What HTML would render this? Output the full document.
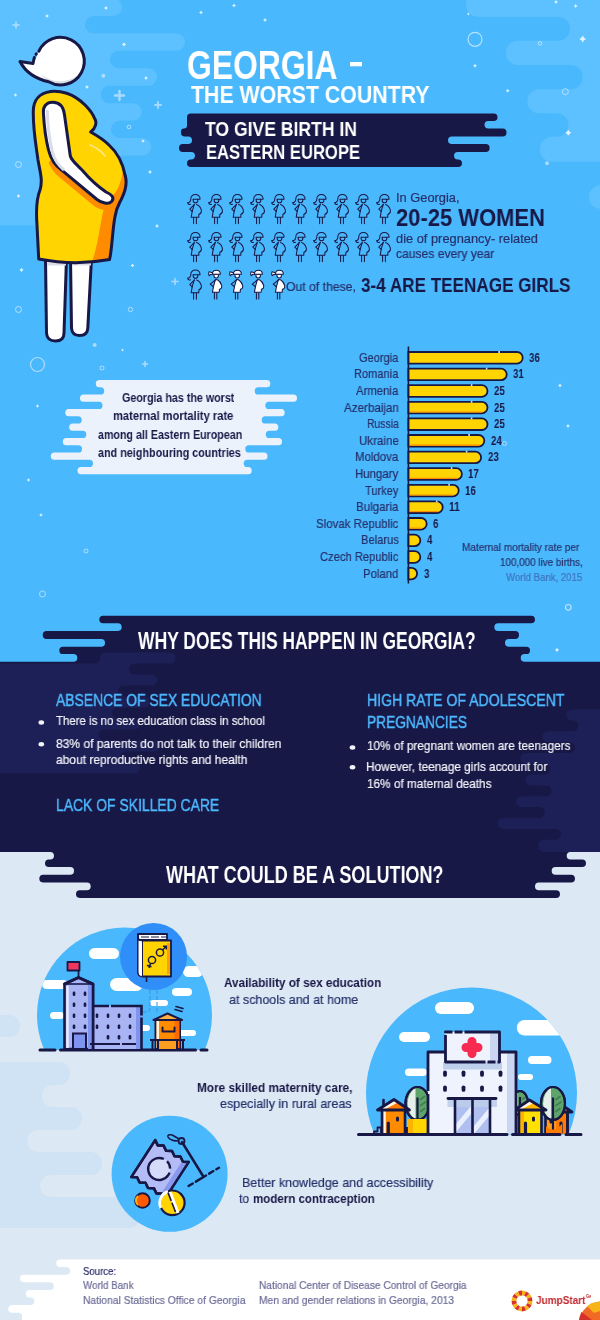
<!DOCTYPE html>
<html><head><meta charset="utf-8"><title>Georgia - the worst country to give birth in Eastern Europe</title>
<style>
html,body{margin:0;padding:0}
body{width:600px;height:1320px;position:relative;overflow:hidden;background:#4ab8fd;font-family:"Liberation Sans",sans-serif}
svg{position:absolute;left:0;top:0}
.t{position:absolute;white-space:pre;line-height:1;transform-origin:0 0;will-change:transform;font-family:"Liberation Sans",sans-serif}
.b{font-weight:700}.r{font-weight:400;-webkit-text-stroke:0.2px currentColor}.m{font-weight:400;-webkit-text-stroke:0.45px currentColor}
</style></head><body>
<svg width="600" height="1320" viewBox="0 0 600 1320">
<rect x="0" y="0" width="600" height="700" fill="#4ab8fd"/>
<path d="M648.0,-7.5A12.0,12.0 0 0 1 660.0,4.5L660.0,149.7A12.0,12.0 0 0 1 648.0,161.7L552.0,161.7A12.0,12.0 0 0 1 540.0,149.7L540.0,148.7A12.0,12.0 0 0 1 552.0,136.7L556.6,136.7A11.7,11.7 0 0 0 568.3,125.0L568.3,125.0A11.7,11.7 0 0 0 556.6,113.3L539.3,113.3A12.0,12.0 0 0 1 527.3,101.3L527.3,101.3A12.0,12.0 0 0 1 539.3,89.3L570.7,89.3A12.0,12.0 0 0 0 582.7,77.3L582.7,77.0A12.0,12.0 0 0 0 570.7,65.0L518.0,65.0A12.0,12.0 0 0 1 506.0,53.0L506.0,52.7A12.0,12.0 0 0 1 518.0,40.7L558.0,40.7A12.0,12.0 0 0 0 570.0,28.7L570.0,28.7A12.0,12.0 0 0 0 558.0,16.7L478.0,16.7A12.0,12.0 0 0 1 466.0,4.7L466.0,4.5A12.0,12.0 0 0 1 478.0,-7.5Z" fill="#5cc1fe"/>
<path d="M113.3,-1.5A8.7,8.7 0 0 1 122.0,7.2L122.0,7.2A8.7,8.7 0 0 1 113.3,15.9L93.7,15.9A8.7,8.7 0 0 0 85.0,24.6L85.0,24.7A8.7,8.7 0 0 0 93.7,33.4L176.3,33.4A8.7,8.7 0 0 1 185.0,42.1L185.0,42.1A8.7,8.7 0 0 1 176.3,50.8L118.7,50.8A8.7,8.7 0 0 0 110.0,59.5L110.0,59.6A8.7,8.7 0 0 0 118.7,68.3L148.3,68.3A8.7,8.7 0 0 1 157.0,77.0L157.0,77.0A8.7,8.7 0 0 1 148.3,85.7L109.5,85.7A8.7,8.7 0 0 0 100.8,94.4L100.8,94.5A8.7,8.7 0 0 0 109.5,103.2L133.0,103.2A8.7,8.7 0 0 1 141.7,111.9L141.7,111.9A8.7,8.7 0 0 1 133.0,120.6L119.7,120.6A8.7,8.7 0 0 0 111.0,129.3L111.0,129.4A8.7,8.7 0 0 0 119.7,138.1L142.3,138.1A8.7,8.7 0 0 1 151.0,146.8L151.0,146.8A8.7,8.7 0 0 1 142.3,155.5L78.7,155.5A8.7,8.7 0 0 0 70.0,164.2L70.0,164.3A8.7,8.7 0 0 0 78.7,173.0L81.3,173.0A8.7,8.7 0 0 1 90.0,181.7L90.0,181.7A8.7,8.7 0 0 1 81.3,190.4L68.7,190.4A8.7,8.7 0 0 0 60.0,199.1L60.0,199.2A8.7,8.7 0 0 0 68.7,207.9L86.3,207.9A8.7,8.7 0 0 1 95.0,216.6L95.0,216.6A8.7,8.7 0 0 1 86.3,225.3L-51.3,225.3A8.7,8.7 0 0 1 -60.0,216.6L-60.0,7.2A8.7,8.7 0 0 1 -51.3,-1.5Z" fill="#5cc1fe"/>
<rect x="589" y="185" width="60" height="24" rx="12" fill="#5cc1fe"/>
<rect x="0" y="840" width="600" height="480" fill="#dce8f3"/>
<path d="M59.0,1062.0A11.0,11.0 0 0 1 70.0,1073.0L70.0,1074.0A11.0,11.0 0 0 1 59.0,1085.0L53.0,1085.0A11.0,11.0 0 0 0 42.0,1096.0L42.0,1096.0A11.0,11.0 0 0 0 53.0,1107.0L71.0,1107.0A11.0,11.0 0 0 1 82.0,1118.0L82.0,1119.0A11.0,11.0 0 0 1 71.0,1130.0L38.0,1130.0A11.0,11.0 0 0 0 27.0,1141.0L27.0,1141.0A11.0,11.0 0 0 0 38.0,1152.0L91.0,1152.0A11.0,11.0 0 0 1 102.0,1163.0L102.0,1164.0A11.0,11.0 0 0 1 91.0,1175.0L51.0,1175.0A11.0,11.0 0 0 0 40.0,1186.0L40.0,1186.0A11.0,11.0 0 0 0 51.0,1197.0L129.0,1197.0A11.0,11.0 0 0 1 140.0,1208.0L140.0,1217.0A11.0,11.0 0 0 1 129.0,1228.0L-49.0,1228.0A11.0,11.0 0 0 1 -60.0,1217.0L-60.0,1073.0A11.0,11.0 0 0 1 -49.0,1062.0Z" fill="#d0e3f4"/>
<rect x="-30" y="1015" width="50" height="22" rx="11" fill="#d0e3f4"/>
<circle cx="475" cy="39.3" r="7" fill="none" stroke="#d5edff" stroke-width="1.2" opacity="0.8"/>
<circle cx="540" cy="43.3" r="1.8" fill="none" stroke="#d5edff" stroke-width="1" opacity="0.7"/>
<circle cx="565.3" cy="91.7" r="3" fill="none" stroke="#d5edff" stroke-width="1" opacity="0.7"/>
<circle cx="547" cy="163.3" r="2" fill="#cfeaff" opacity="0.7"/>
<path d="M582.7,35.5Q583.6800000000001,38.02 586.2,39Q583.6800000000001,39.98 582.7,42.5Q581.72,39.98 579.2,39Q581.72,38.02 582.7,35.5Z" fill="#fff" opacity="0.8"/>
<path d="M568.3,129.7Q569.14,131.85999999999999 571.3,132.7Q569.14,133.54 568.3,135.7Q567.4599999999999,133.54 565.3,132.7Q567.4599999999999,131.85999999999999 568.3,129.7Z" fill="#fff" opacity="0.8"/>
<path d="M475,63.7Q475.56,65.14 477,65.7Q475.56,66.26 475,67.7Q474.44,66.26 473,65.7Q474.44,65.14 475,63.7Z" fill="#fff" opacity="0.8"/>
<path d="M507.7,88.7Q508.26,90.14 509.7,90.7Q508.26,91.26 507.7,92.7Q507.14,91.26 505.7,90.7Q507.14,90.14 507.7,88.7Z" fill="#fff" opacity="0.8"/>
<path d="M556,0Q556.56,1.44 558,2Q556.56,2.56 556,4Q555.44,2.56 554,2Q555.44,1.44 556,0Z" fill="#fff" opacity="0.8"/>
<path d="M575.7,4Q576.26,5.4399999999999995 577.7,6Q576.26,6.5600000000000005 575.7,8Q575.1400000000001,6.5600000000000005 573.7,6Q575.1400000000001,5.4399999999999995 575.7,4Z" fill="#fff" opacity="0.8"/>
<path d="M468.3,12.5Q468.72,13.58 469.8,14Q468.72,14.42 468.3,15.5Q467.88,14.42 466.8,14Q467.88,13.58 468.3,12.5Z" fill="#fff" opacity="0.8"/>
<path d="M115.0,95.5H124.0M119.5,91.0V100.0" stroke="#cfeaff" stroke-width="2.4" stroke-linecap="round" opacity="0.7"/>
<path d="M155,105H161M158,102V108" stroke="#cfeaff" stroke-width="1.8" stroke-linecap="round" opacity="0.7"/>
<path d="M13,25H19M16,22V28" stroke="#cfeaff" stroke-width="1.6" stroke-linecap="round" opacity="0.7"/>
<path d="M106,6Q106.56,7.4399999999999995 108,8Q106.56,8.56 106,10Q105.44,8.56 104,8Q105.44,7.4399999999999995 106,6Z" fill="#fff" opacity="0.8"/>
<path d="M124,42.3Q124.616,43.884 126.2,44.5Q124.616,45.116 124,46.7Q123.384,45.116 121.8,44.5Q123.384,43.884 124,42.3Z" fill="#fff" opacity="0.8"/>
<path d="M146,76Q146.56,77.44 148,78Q146.56,78.56 146,80Q145.44,78.56 144,78Q145.44,77.44 146,76Z" fill="#fff" opacity="0.8"/>
<path d="M87,85Q87.56,86.44 89,87Q87.56,87.56 87,89Q86.44,87.56 85,87Q86.44,86.44 87,85Z" fill="#fff" opacity="0.8"/>
<path d="M201,10.5Q201.56,11.94 203,12.5Q201.56,13.06 201,14.5Q200.44,13.06 199,12.5Q200.44,11.94 201,10.5Z" fill="#fff" opacity="0.8"/>
<path d="M234,3.5Q234.56,4.9399999999999995 236,5.5Q234.56,6.0600000000000005 234,7.5Q233.44,6.0600000000000005 232,5.5Q233.44,4.9399999999999995 234,3.5Z" fill="#fff" opacity="0.8"/>
<path d="M265,18Q265.56,19.44 267,20Q265.56,20.56 265,22Q264.44,20.56 263,20Q264.44,19.44 265,18Z" fill="#fff" opacity="0.8"/>
<circle cx="103.3" cy="75.7" r="2" fill="#cfeaff" opacity="0.7"/>
<path d="M47,14Q47.56,15.44 49,16Q47.56,16.56 47,18Q46.44,16.56 45,16Q46.44,15.44 47,14Z" fill="#fff" opacity="0.8"/>
<path d="M15.5,93.2Q16.004,94.496 17.3,95Q16.004,95.504 15.5,96.8Q14.996,95.504 13.7,95Q14.996,94.496 15.5,93.2Z" fill="#fff" opacity="0.8"/>
<circle cx="129" cy="127" r="1.8" fill="none" stroke="#d5edff" stroke-width="1" opacity="0.7"/>
<circle cx="18.5" cy="164.5" r="3" fill="none" stroke="#d5edff" stroke-width="1" opacity="0.7"/>
<circle cx="18.5" cy="309.5" r="3" fill="none" stroke="#d5edff" stroke-width="1" opacity="0.7"/>
<circle cx="130.5" cy="309.5" r="2.2" fill="none" stroke="#d5edff" stroke-width="1" opacity="0.7"/>
<circle cx="94.7" cy="345" r="2" fill="#cfeaff" opacity="0.7"/>
<path d="M18.5,194Q19.06,195.44 20.5,196Q19.06,196.56 18.5,198Q17.94,196.56 16.5,196Q17.94,195.44 18.5,194Z" fill="#fff" opacity="0.8"/>
<path d="M21.5,267.8Q22.116,269.384 23.7,270Q22.116,270.616 21.5,272.2Q20.884,270.616 19.3,270Q20.884,269.384 21.5,267.8Z" fill="#fff" opacity="0.8"/>
<path d="M132.5,263.5Q133.06,264.94 134.5,265.5Q133.06,266.06 132.5,267.5Q131.94,266.06 130.5,265.5Q131.94,264.94 132.5,263.5Z" fill="#fff" opacity="0.8"/>
<path d="M157,224Q157.56,225.44 159,226Q157.56,226.56 157,228Q156.44,226.56 155,226Q156.44,225.44 157,224Z" fill="#fff" opacity="0.8"/>
<path d="M150,170Q150.56,171.44 152,172Q150.56,172.56 150,174Q149.44,172.56 148,172Q149.44,171.44 150,170Z" fill="#fff" opacity="0.8"/>
<path d="M143,139.2Q143.504,140.496 144.8,141Q143.504,141.504 143,142.8Q142.496,141.504 141.2,141Q142.496,140.496 143,139.2Z" fill="#fff" opacity="0.8"/>
<path d="M122.5,348.4Q122.948,349.552 124.1,350Q122.948,350.448 122.5,351.6Q122.052,350.448 120.9,350Q122.052,349.552 122.5,348.4Z" fill="#fff" opacity="0.8"/>
<path d="M172,281.5H178M175,278.5V284.5" stroke="#cfeaff" stroke-width="1.6" stroke-linecap="round" opacity="0.7"/>
<path d="M142.5,364H147.5M145,361.5V366.5" stroke="#cfeaff" stroke-width="1.6" stroke-linecap="round" opacity="0.7"/>
<circle cx="37.5" cy="364.5" r="7" fill="none" stroke="#d5edff" stroke-width="1.2" opacity="0.7"/>
<circle cx="102" cy="368" r="2" fill="none" stroke="#d5edff" stroke-width="1" opacity="0.7"/>
<circle cx="568.3" cy="607.3" r="2.8" fill="none" stroke="#d5edff" stroke-width="1.2" opacity="0.8"/>
<circle cx="504.5" cy="443.5" r="2" fill="none" stroke="#d5edff" stroke-width="1" opacity="0.7"/>
<path d="M37.5,404.2Q38.004,405.496 39.3,406Q38.004,406.504 37.5,407.8Q36.996,406.504 35.7,406Q36.996,405.496 37.5,404.2Z" fill="#fff" opacity="0.8"/>
<path d="M28.5,478.2Q29.004,479.496 30.3,480Q29.004,480.504 28.5,481.8Q27.996,480.504 26.7,480Q27.996,479.496 28.5,478.2Z" fill="#fff" opacity="0.8"/>
<path d="M41,513.2Q41.504,514.496 42.8,515Q41.504,515.504 41,516.8Q40.496,515.504 39.2,515Q40.496,514.496 41,513.2Z" fill="#fff" opacity="0.8"/>
<circle cx="86" cy="551" r="2" fill="none" stroke="#d5edff" stroke-width="1" opacity="0.7"/>
<circle cx="42.5" cy="594" r="3" fill="none" stroke="#d5edff" stroke-width="1" opacity="0.7"/>
<path d="M560,383.5Q560.56,384.94 562,385.5Q560.56,386.06 560,387.5Q559.44,386.06 558,385.5Q559.44,384.94 560,383.5Z" fill="#fff" opacity="0.8"/>
<path d="M568,424Q568.56,425.44 570,426Q568.56,426.56 568,428Q567.44,426.56 566,426Q567.44,425.44 568,424Z" fill="#fff" opacity="0.8"/>
<path d="M516,358.2Q516.504,359.496 517.8,360Q516.504,360.504 516,361.8Q515.496,360.504 514.2,360Q515.496,359.496 516,358.2Z" fill="#fff" opacity="0.8"/>
<path d="M557,647.8Q557.616,649.384 559.2,650Q557.616,650.616 557,652.2Q556.384,650.616 554.8,650Q556.384,649.384 557,647.8Z" fill="#fff" opacity="0.8"/>
<path d="M493.8,113.5A3.8,3.8 0 0 1 497.5,117.2L497.5,117.2A3.8,3.8 0 0 1 493.8,121.0L488.2,121.0A3.8,3.8 0 0 0 484.5,124.8L484.5,124.8A3.8,3.8 0 0 0 488.2,128.5L502.7,128.5A3.8,3.8 0 0 1 506.5,132.3L506.5,132.7A3.8,3.8 0 0 1 502.7,136.5L451.8,136.5A3.8,3.8 0 0 0 448.0,140.2L448.0,140.2A3.8,3.8 0 0 0 451.8,144.0L485.8,144.0A3.8,3.8 0 0 1 489.6,147.8L489.6,148.2A3.8,3.8 0 0 1 485.8,152.0L457.8,152.0A3.8,3.8 0 0 0 454.0,155.8L454.0,155.8A3.8,3.8 0 0 0 457.8,159.5L458.2,159.5A3.8,3.8 0 0 1 462.0,163.2L462.0,163.2A3.8,3.8 0 0 1 458.2,167.0L190.8,167.0A3.8,3.8 0 0 1 187.0,163.2L187.0,163.2A3.8,3.8 0 0 1 190.8,159.5L191.2,159.5A3.8,3.8 0 0 0 195.0,155.8L195.0,155.8A3.8,3.8 0 0 0 191.2,152.0L182.8,152.0A3.8,3.8 0 0 1 179.0,148.2L179.0,147.8A3.8,3.8 0 0 1 182.8,144.0L188.2,144.0A3.8,3.8 0 0 0 192.0,140.2L192.0,140.2A3.8,3.8 0 0 0 188.2,136.5L184.8,136.5A3.8,3.8 0 0 1 181.0,132.7L181.0,131.5A3.0,3.0 0 0 1 184.0,128.5L184.0,128.5A3.0,3.0 0 0 0 187.0,125.5L187.0,117.3A3.8,3.8 0 0 1 190.8,113.5Z" fill="#181847"/>
<path d="M45.5,258 L46.5,333 Q47,341 55.5,341 Q64,341 64,333 L66.5,258Z" fill="#fff" stroke="#181847" stroke-width="3" stroke-linejoin="round"/>
<path d="M70.5,258 L71.5,328 Q72,335.5 79.5,335.5 Q87.5,335.5 87.8,328 L91.5,258Z" fill="#fff" stroke="#181847" stroke-width="3" stroke-linejoin="round"/>
<path d="M47,264H66M72,264H91" stroke="#d9dde6" stroke-width="3"/>
<path d="M50.7,91.5 C40,93 33,100 33.3,112 C33,130 36,145 38,160 C40,172 43,180 40,190 C36,200 36,212 37,225 L38.7,259 Q75,266 109.5,259.5 C112,250 112,235 114.7,218 C116,208 119,204 121.3,199.3 C126,190 127,182 125.3,176 C123,164 118,153 109,145 C103,139 96,135 90.7,132 C96,128 97,122 94.7,118.7 C92,112 88,108 85.3,105.3 C80,100 72,95 66.7,93.3 C61,91.5 55,91 50.7,91.5Z" fill="#ffd400"/>
<path d="M123,170 C127,182 126,190 121.3,199.3 C119,204 116,208 114.7,218 C112,235 112,250 109.5,259.5 L92,262 C98,245 100,225 103,212 C106,203 112,198 117,190 C120,184 122,178 123,170Z" fill="#ff8b00"/>
<path d="M52,163 C55,169.5 58.5,173 62,175.5 L96,203.8 C100,207 106,208 110,206.5" fill="none" stroke="#ff8b00" stroke-width="6" stroke-linecap="round"/>
<path d="M50.7,91.5 C40,93 33,100 33.3,112 C33,130 36,145 38,160 C40,172 43,180 40,190 C36,200 36,212 37,225 L38.7,259 Q75,266 109.5,259.5 C112,250 112,235 114.7,218 C116,208 119,204 121.3,199.3 C126,190 127,182 125.3,176 C123,164 118,153 109,145 C103,139 96,135 90.7,132 C96,128 97,122 94.7,118.7 C92,112 88,108 85.3,105.3 C80,100 72,95 66.7,93.3 C61,91.5 55,91 50.7,91.5Z" fill="none" stroke="#181847" stroke-width="3" stroke-linejoin="round"/>
<path d="M90,145 Q100,149 105,156" fill="none" stroke="#ffe98a" stroke-width="1.6" stroke-linecap="round"/>
<path d="M52.8,102.2 C46.5,102 43,106.5 43.4,112.5 C44,125 46,140 48.5,150 C51,160 55.5,166 61.7,170.2 L97,199.5 C101.5,203 108.5,205 111.8,201.2 C114.8,197.5 111.5,194.5 106,192 C97,186 88,177 82,170 C76,164 71.5,160.5 70.3,156 L64.4,114.3 C63.5,106.5 59,102.4 52.8,102.2Z" fill="#fff" stroke="#181847" stroke-width="3" stroke-linejoin="round"/>
<path d="M47.3,110 C47.5,122 49.5,140 52.5,152 C54.5,160 59,166 64,170" fill="none" stroke="#d9dde6" stroke-width="3"/>
<path d="M38,54.5 L33,63.5 L20,61.5 Q28,77 48.6,81.8Z" fill="#fff"/>
<circle cx="60.5" cy="61.2" r="23.8" fill="#fff"/>
<path d="M41,74 A23.8,23.8 0 0 0 82,71 A27,25 0 0 1 41,74Z" fill="#d9dde6"/>
<path d="M38.9,51.1 A23.8,23.8 0 1 1 48.6,81.8 Q28,77 20,61.5 L33,63.5 L34.3,57.5" fill="none" stroke="#181847" stroke-width="3" stroke-linecap="round" stroke-linejoin="round"/>
<path d="M36,54.3 L36.2,53.9" fill="none" stroke="#181847" stroke-width="3" stroke-linecap="round"/>
<defs>
<g id="pw" fill="none" stroke="#181847" stroke-width="1.05" stroke-linejoin="round" stroke-linecap="round">
<path d="M6.6,23.4V29.6M9.4,23.4V29.6"/>
<path d="M7.4,10.2 L5.2,17.2 L4.2,23.3 H11.8 L11.9,20.2 C13.7,19.7 14.7,18 14.3,16 C13.7,13.4 11.8,11.4 9.6,10.5"/>
<path d="M7.2,10.6 L2.8,15.2 L5.2,17.4"/>
<path d="M13,5.2 H6.2 M13,5.2 C13.4,2.4 11.2,0.5 8.4,0.5 C5.6,0.5 3.6,2.4 3.8,5 C3.9,7 2.4,8.6 0.7,8.6 C0.9,10.2 2.4,11 3.4,10.3"/>
<path d="M6.2,5.2 V6.4 C6.2,7.8 7.2,8.7 8.5,8.7 C9.8,8.7 10.8,7.8 10.8,6.4 V5.2"/>
</g>
<g id="tw" fill="#fff" stroke="#181847" stroke-width="1.05" stroke-linejoin="round" stroke-linecap="round">
<path d="M6.4,23.1V29.5M8.8,23.1V29.5" fill="none"/>
<path d="M7.4,10 L5.6,16.6 L4.4,22.8 H11.2 L11.4,19.8 C13,19.4 14,17.6 13.6,15.8 C13,13.2 11.2,11.2 9.4,10.2Z"/>
<path d="M7.2,10.6 L2.2,14.7 L5.2,17" fill="none"/>
<path d="M6,4.7 V6.2 C6,7.6 7,8.4 8.2,8.4 C9.4,8.4 10.4,7.6 10.4,6.2 V4.7Z"/>
<path d="M4.4,4.7 C4.4,2 6,0.7 8.4,0.7 C10.8,0.7 12.4,2 12.4,4.7Z"/>
<path d="M4.6,3.2 L1,2.3 C0.5,3.6 0.5,5 1.2,6.3 C2,5 3.2,4.5 4.6,4.5Z"/>
</g>
</defs>
<use href="#pw" x="187" y="194"/>
<use href="#pw" x="208" y="194"/>
<use href="#pw" x="229" y="194"/>
<use href="#pw" x="250" y="194"/>
<use href="#pw" x="271" y="194"/>
<use href="#pw" x="292" y="194"/>
<use href="#pw" x="313" y="194"/>
<use href="#pw" x="334" y="194"/>
<use href="#pw" x="355" y="194"/>
<use href="#pw" x="376" y="194"/>
<use href="#pw" x="187" y="232"/>
<use href="#pw" x="208" y="232"/>
<use href="#pw" x="229" y="232"/>
<use href="#pw" x="250" y="232"/>
<use href="#pw" x="271" y="232"/>
<use href="#pw" x="292" y="232"/>
<use href="#pw" x="313" y="232"/>
<use href="#pw" x="334" y="232"/>
<use href="#pw" x="355" y="232"/>
<use href="#pw" x="376" y="232"/>
<use href="#pw" x="187" y="269.5"/>
<use href="#tw" x="208" y="269.5"/>
<use href="#tw" x="229" y="269.5"/>
<use href="#tw" x="250" y="269.5"/>
<use href="#tw" x="271" y="269.5"/>
<path d="M266.7,380.0A3.6,3.6 0 0 1 270.3,383.6L270.3,383.6A3.6,3.6 0 0 1 266.7,387.3L258.3,387.3A3.6,3.6 0 0 0 254.7,390.9L254.7,390.9A3.6,3.6 0 0 0 258.3,394.5L293.4,394.5A3.6,3.6 0 0 1 297.0,398.1L297.0,398.1A3.6,3.6 0 0 1 293.4,401.8L268.9,401.8A3.6,3.6 0 0 0 265.3,405.4L265.3,405.4A3.6,3.6 0 0 0 268.9,409.0L281.1,409.0A3.6,3.6 0 0 1 284.7,412.6L284.7,412.6A3.6,3.6 0 0 1 281.1,416.3L265.3,416.3A3.6,3.6 0 0 0 261.7,419.9L261.7,419.9A3.6,3.6 0 0 0 265.3,423.5L274.7,423.5A3.6,3.6 0 0 1 278.3,427.1L278.3,427.1A3.6,3.6 0 0 1 274.7,430.8L269.4,430.8A3.6,3.6 0 0 0 265.8,434.4L265.8,434.4A3.6,3.6 0 0 0 269.4,438.0L278.4,438.0A3.6,3.6 0 0 1 282.0,441.7L282.0,441.7A3.6,3.6 0 0 1 278.4,445.3L248.9,445.3A3.6,3.6 0 0 0 245.3,448.9L245.3,448.9A3.6,3.6 0 0 0 248.9,452.5L263.9,452.5A3.6,3.6 0 0 1 267.5,456.2L267.5,456.2A3.6,3.6 0 0 1 263.9,459.8L247.3,459.8A3.6,3.6 0 0 0 243.7,463.4L243.7,463.4A3.6,3.6 0 0 0 247.3,467.0L248.1,467.0A3.6,3.6 0 0 1 251.7,470.7L251.7,470.7A3.6,3.6 0 0 1 248.1,474.3L81.1,474.3A3.6,3.6 0 0 1 77.5,470.7L77.5,470.7A3.6,3.6 0 0 1 81.1,467.0L89.4,467.0A3.6,3.6 0 0 0 93.0,463.4L93.0,463.4A3.6,3.6 0 0 0 89.4,459.8L54.4,459.8A3.6,3.6 0 0 1 50.8,456.2L50.8,456.2A3.6,3.6 0 0 1 54.4,452.5L78.4,452.5A3.6,3.6 0 0 0 82.0,448.9L82.0,448.9A3.6,3.6 0 0 0 78.4,445.3L66.4,445.3A3.6,3.6 0 0 1 62.8,441.7L62.8,441.7A3.6,3.6 0 0 1 66.4,438.0L82.7,438.0A3.6,3.6 0 0 0 86.3,434.4L86.3,434.4A3.6,3.6 0 0 0 82.7,430.8L72.8,430.8A3.6,3.6 0 0 1 69.2,427.1L69.2,427.1A3.6,3.6 0 0 1 72.8,423.5L78.1,423.5A3.6,3.6 0 0 0 81.7,419.9L81.7,419.9A3.6,3.6 0 0 0 78.1,416.3L68.9,416.3A3.6,3.6 0 0 1 65.3,412.6L65.3,412.6A3.6,3.6 0 0 1 68.9,409.0L98.9,409.0A3.6,3.6 0 0 0 102.5,405.4L102.5,405.4A3.6,3.6 0 0 0 98.9,401.8L83.6,401.8A3.6,3.6 0 0 1 80.0,398.1L80.0,398.1A3.6,3.6 0 0 1 83.6,394.5L100.6,394.5A3.6,3.6 0 0 0 104.2,390.9L104.2,390.9A3.6,3.6 0 0 0 100.6,387.3L99.4,387.3A3.6,3.6 0 0 1 95.8,383.6L95.8,383.6A3.6,3.6 0 0 1 99.4,380.0Z" fill="#ebf2fc"/>
<path d="M408.4,352.00H516.90A5.8,5.8 0 0 1 516.90,363.60H408.4Z" fill="#ffd400" stroke="#181847" stroke-width="1.8"/>
<path d="M408.4,368.60H500.90A5.8,5.8 0 0 1 500.90,380.20H408.4Z" fill="#ffd400" stroke="#181847" stroke-width="1.8"/>
<path d="M408.4,385.20H481.70A5.8,5.8 0 0 1 481.70,396.80H408.4Z" fill="#ffd400" stroke="#181847" stroke-width="1.8"/>
<path d="M408.4,401.80H481.70A5.8,5.8 0 0 1 481.70,413.40H408.4Z" fill="#ffd400" stroke="#181847" stroke-width="1.8"/>
<path d="M409.4,412.00H482.70" stroke="#ff8b00" stroke-width="1.2"/>
<path d="M408.4,418.40H481.70A5.8,5.8 0 0 1 481.70,430.00H408.4Z" fill="#ffd400" stroke="#181847" stroke-width="1.8"/>
<path d="M408.4,435.00H478.50A5.8,5.8 0 0 1 478.50,446.60H408.4Z" fill="#ffd400" stroke="#181847" stroke-width="1.8"/>
<path d="M409.4,445.20H479.50" stroke="#ff8b00" stroke-width="1.2"/>
<path d="M408.4,451.60H475.30A5.8,5.8 0 0 1 475.30,463.20H408.4Z" fill="#ffd400" stroke="#181847" stroke-width="1.8"/>
<path d="M408.4,468.20H456.10A5.8,5.8 0 0 1 456.10,479.80H408.4Z" fill="#ffd400" stroke="#181847" stroke-width="1.8"/>
<path d="M409.4,478.40H457.10" stroke="#ff8b00" stroke-width="1.2"/>
<path d="M408.4,484.80H452.90A5.8,5.8 0 0 1 452.90,496.40H408.4Z" fill="#ffd400" stroke="#181847" stroke-width="1.8"/>
<path d="M409.4,495.00H453.90" stroke="#ff8b00" stroke-width="1.2"/>
<path d="M408.4,501.40H436.90A5.8,5.8 0 0 1 436.90,513.00H408.4Z" fill="#ffd400" stroke="#181847" stroke-width="1.8"/>
<path d="M409.4,511.60H437.90" stroke="#ff8b00" stroke-width="1.2"/>
<path d="M408.4,518.00H420.90A5.8,5.8 0 0 1 420.90,529.60H408.4Z" fill="#ffd400" stroke="#181847" stroke-width="1.8"/>
<path d="M409.4,528.20H421.90" stroke="#ff8b00" stroke-width="1.2"/>
<path d="M408.4,534.60H414.50A5.8,5.8 0 0 1 414.50,546.20H408.4Z" fill="#ffd400" stroke="#181847" stroke-width="1.8"/>
<path d="M408.4,551.20H414.50A5.8,5.8 0 0 1 414.50,562.80H408.4Z" fill="#ffd400" stroke="#181847" stroke-width="1.8"/>
<path d="M408.4,567.80H411.30A5.8,5.8 0 0 1 411.30,579.40H408.4Z" fill="#ffd400" stroke="#181847" stroke-width="1.8"/>
<path d="M498.3,352.00h1.6" stroke="#bfe4ff" stroke-width="2"/>
<path d="M485.8,368.60h1.6" stroke="#bfe4ff" stroke-width="2"/>
<path d="M470.8,385.20h1.6" stroke="#bfe4ff" stroke-width="2"/>
<path d="M470.8,401.80h1.6" stroke="#bfe4ff" stroke-width="2"/>
<path d="M470.8,418.40h1.6" stroke="#bfe4ff" stroke-width="2"/>
<path d="M468.3,435.00h1.6" stroke="#bfe4ff" stroke-width="2"/>
<path d="M465.8,451.60h1.6" stroke="#bfe4ff" stroke-width="2"/>
<path d="M450.8,468.20h1.6" stroke="#bfe4ff" stroke-width="2"/>
<path d="M448.3,484.80h1.6" stroke="#bfe4ff" stroke-width="2"/>
<path d="M435.9,501.40h1.6" stroke="#bfe4ff" stroke-width="2"/>
<path d="M408.4,346.5V583.5" stroke="#181847" stroke-width="1.6"/>
<path d="M531.2,615.7A3.8,3.8 0 0 1 535.0,619.5L535.0,619.5A3.8,3.8 0 0 1 531.2,623.3L498.2,623.3A3.9,3.9 0 0 0 494.3,627.1L494.3,627.1A3.9,3.9 0 0 0 498.2,631.0L515.1,631.0A3.9,3.9 0 0 1 519.0,634.9L519.0,635.1A3.9,3.9 0 0 1 515.1,639.0L508.9,639.0A3.9,3.9 0 0 0 505.0,642.9L505.0,642.9A3.9,3.9 0 0 0 508.9,646.7L526.4,646.7A3.6,3.6 0 0 1 530.0,650.4L530.0,650.4A3.6,3.6 0 0 1 526.4,654.0L524.6,654.0A3.9,3.9 0 0 0 520.7,657.9L520.7,657.9A3.9,3.9 0 0 0 524.6,661.7L656.1,661.7A3.9,3.9 0 0 1 660.0,665.6L660.0,848.0A3.9,3.9 0 0 1 656.1,851.9L570.5,851.9A3.8,3.8 0 0 0 566.7,855.7L566.7,855.7A3.8,3.8 0 0 0 570.5,859.5L582.2,859.5A3.8,3.8 0 0 1 586.0,863.3L586.0,863.3A3.8,3.8 0 0 1 582.2,867.1L555.5,867.1A3.8,3.8 0 0 0 551.7,871.0L551.7,871.0A3.8,3.8 0 0 0 555.5,874.8L571.1,874.8A3.9,3.9 0 0 1 575.0,878.6L575.0,878.6A3.9,3.9 0 0 1 571.1,882.5L538.9,882.5A3.9,3.9 0 0 0 535.0,886.4L535.0,886.4A3.9,3.9 0 0 0 538.9,890.2L556.1,890.2A3.9,3.9 0 0 1 560.0,894.1L560.0,894.1A3.9,3.9 0 0 1 556.1,898.0L79.8,898.0A3.9,3.9 0 0 1 76.0,894.1L76.0,894.1A3.9,3.9 0 0 1 79.8,890.2L86.9,890.2A3.9,3.9 0 0 0 90.7,886.4L90.7,886.4A3.9,3.9 0 0 0 86.9,882.5L43.1,882.5A3.9,3.9 0 0 1 39.3,878.6L39.3,878.6A3.9,3.9 0 0 1 43.1,874.8L70.2,874.8A3.8,3.8 0 0 0 74.0,871.0L74.0,871.0A3.8,3.8 0 0 0 70.2,867.1L48.8,867.1A3.8,3.8 0 0 1 45.0,863.3L45.0,863.3A3.8,3.8 0 0 1 48.8,859.5L50.2,859.5A3.8,3.8 0 0 0 54.0,855.7L54.0,855.7A3.8,3.8 0 0 0 50.2,851.9L-56.1,851.9A3.9,3.9 0 0 1 -60.0,848.0L-60.0,665.6A3.9,3.9 0 0 1 -56.1,661.7L73.5,661.7A3.9,3.9 0 0 0 77.3,657.9L77.3,657.9A3.9,3.9 0 0 0 73.5,654.0L62.9,654.0A3.6,3.6 0 0 1 59.3,650.4L59.3,650.4A3.6,3.6 0 0 1 62.9,646.7L101.2,646.7A3.9,3.9 0 0 0 105.0,642.9L105.0,642.9A3.9,3.9 0 0 0 101.2,639.0L46.6,639.0A3.9,3.9 0 0 1 42.7,635.1L42.7,634.9A3.9,3.9 0 0 1 46.6,631.0L117.9,631.0A3.9,3.9 0 0 0 121.7,627.1L121.7,627.1A3.9,3.9 0 0 0 117.9,623.3L103.1,623.3A3.8,3.8 0 0 1 99.3,619.5L99.3,619.5A3.8,3.8 0 0 1 103.1,615.7Z" fill="#181847"/>
<path d="M170.0,652.5A5.5,5.5 0 0 1 175.5,658.0L175.5,658.0A5.5,5.5 0 0 1 170.0,663.5L134.5,663.5A5.5,5.5 0 0 0 129.0,669.0L129.0,669.0A5.5,5.5 0 0 0 134.5,674.5L151.5,674.5A5.5,5.5 0 0 1 157.0,680.0L157.0,680.0A5.5,5.5 0 0 1 151.5,685.5L123.5,685.5A5.5,5.5 0 0 0 118.0,691.0L118.0,691.0A5.5,5.5 0 0 0 123.5,696.5L144.5,696.5A5.5,5.5 0 0 1 150.0,702.0L150.0,702.0A5.5,5.5 0 0 1 144.5,707.5L117.5,707.5A5.5,5.5 0 0 0 112.0,713.0L112.0,713.0A5.5,5.5 0 0 0 117.5,718.5L134.5,718.5A5.5,5.5 0 0 1 140.0,724.0L140.0,724.0A5.5,5.5 0 0 1 134.5,729.5L104.0,729.5A5.5,5.5 0 0 0 98.5,735.0L98.5,735.0A5.5,5.5 0 0 0 104.0,740.5L154.5,740.5A5.5,5.5 0 0 1 160.0,746.0L160.0,746.0A5.5,5.5 0 0 1 154.5,751.5L125.5,751.5A5.5,5.5 0 0 0 120.0,757.0L120.0,757.0A5.5,5.5 0 0 0 125.5,762.5L134.5,762.5A5.5,5.5 0 0 1 140.0,768.0L140.0,768.0A5.5,5.5 0 0 1 134.5,773.5L-54.5,773.5A5.5,5.5 0 0 1 -60.0,768.0L-60.0,669.0A5.5,5.5 0 0 1 -54.5,663.5L94.5,663.5A5.5,5.5 0 0 0 100.0,658.0L100.0,658.0A5.5,5.5 0 0 1 105.5,652.5Z" fill="#1d2056"/>
<path d="M654.6,709.5A5.4,5.4 0 0 1 660.0,714.9L660.0,846.5A5.4,5.4 0 0 1 654.6,851.9L543.7,851.9A5.4,5.4 0 0 1 538.3,846.5L538.3,845.1A5.4,5.4 0 0 1 543.7,839.7L555.6,839.7A5.4,5.4 0 0 0 561.0,834.3L561.0,834.2A5.4,5.4 0 0 0 555.6,828.9L503.1,828.9A5.4,5.4 0 0 1 497.7,823.5L497.7,823.4A5.4,5.4 0 0 1 503.1,818.0L539.4,818.0A5.4,5.4 0 0 0 544.8,812.6L544.8,812.5A5.4,5.4 0 0 0 539.4,807.1L521.4,807.1A5.4,5.4 0 0 1 516.0,801.8L516.0,801.7A5.4,5.4 0 0 1 521.4,796.3L545.9,796.3A5.4,5.4 0 0 0 551.3,790.9L551.3,790.9A5.4,5.4 0 0 0 545.9,785.5L530.7,785.5A5.4,5.4 0 0 1 525.3,780.1L525.3,780.0A5.4,5.4 0 0 1 530.7,774.6L544.6,774.6A5.4,5.4 0 0 0 550.0,769.2L550.0,769.1A5.4,5.4 0 0 0 544.6,763.8L525.7,763.8A5.4,5.4 0 0 1 520.3,758.4L520.3,758.3A5.4,5.4 0 0 1 525.7,752.9L569.6,752.9A5.4,5.4 0 0 0 575.0,747.5L575.0,747.4A5.4,5.4 0 0 0 569.6,742.0L548.0,742.0A5.4,5.4 0 0 1 542.6,736.6L542.6,736.6A5.4,5.4 0 0 1 548.0,731.2L572.9,731.2A5.4,5.4 0 0 0 578.3,725.8L578.3,725.8A5.4,5.4 0 0 0 572.9,720.4L571.8,720.4A5.4,5.4 0 0 1 566.4,715.0L566.4,714.9A5.4,5.4 0 0 1 571.8,709.5Z" fill="#1d2056"/>
<rect x="350" y="62" width="12" height="4.3" fill="#fff"/>
<ellipse cx="41.3" cy="722.5" rx="2.8" ry="2.2" fill="#f3f4fa"/>
<ellipse cx="41.3" cy="744.3" rx="2.8" ry="2.2" fill="#f3f4fa"/>
<ellipse cx="352.5" cy="747.5" rx="2.8" ry="2.2" fill="#f3f4fa"/>
<ellipse cx="352.5" cy="767.2" rx="2.8" ry="2.2" fill="#f3f4fa"/>
<defs><clipPath id="c1"><rect x="30" y="920" width="190" height="130"/></clipPath><clipPath id="c1c"><circle cx="124.5" cy="1015" r="87.5"/></clipPath></defs>
<g clip-path="url(#c1)"><circle cx="124.5" cy="1015" r="87.5" fill="#4ab8fd"/>
<g clip-path="url(#c1c)">
<rect x="89.0" y="948.0" width="30.0" height="11.0" rx="5.5" fill="#fff"/>
<rect x="42.0" y="980.0" width="26.0" height="9.0" rx="4.5" fill="#fff"/>
<rect x="110.0" y="978.0" width="33.0" height="13.0" rx="6.5" fill="#fff"/>
<rect x="183.0" y="966.0" width="20.0" height="11.0" rx="5.5" fill="#fff"/>
<rect x="172.0" y="988.0" width="20.0" height="8.0" rx="4.0" fill="#fff"/>
<rect x="150.0" y="1000.0" width="18.0" height="6.0" rx="3.0" fill="#fff"/>
<rect x="50.0" y="1012.0" width="14.0" height="7.0" rx="3.5" fill="#fff"/>
<rect x="140.0" y="1025.0" width="10.0" height="6.0" rx="3.0" fill="#fff"/>
<rect x="178.0" y="1030.0" width="18.0" height="6.0" rx="3.0" fill="#fff"/>
</g></g>
<path d="M150,990V1008Q150,1012 146,1012H142M157,990V1014" stroke="#3f8fe0" stroke-width="1" stroke-dasharray="4 2" fill="none"/>
<circle cx="153.5" cy="956.5" r="33.5" fill="#2f8ef7"/>
<path d="M146.5,977V982" stroke="#181847" stroke-width="1.6"/>
<path d="M138,934 H167 V940 H138Z" fill="#fff" stroke="#181847" stroke-width="1.8" stroke-linejoin="round"/>
<path d="M141,937H166" stroke="#181847" stroke-width="1.2" stroke-dasharray="8 2"/>
<path d="M138,934 V972 Q138,976.5 142.5,976.5 H171 V940.5 H142 Q138,940.5 138,937" fill="#ffd400" stroke="#181847" stroke-width="1.8" stroke-linejoin="round"/>
<path d="M138,940V972Q138,976.5 142.5,976.5V941Z" fill="#fff" stroke="#181847" stroke-width="1"/>
<path d="M168.5,943V974" stroke="#ff9d00" stroke-width="3"/>
<g fill="none" stroke="#181847" stroke-width="1.5"><circle cx="152" cy="960" r="3.6"/><path d="M150.5,963.5L149,968M147,965.2L151.5,966.8"/><circle cx="160" cy="952.5" r="3.6"/><path d="M162.5,950L166,946.5M163,946.2H166.3V949.5"/></g>
<path d="M40,1050H55M60.5,1050H195.5M201,1050H207" stroke="#181847" stroke-width="3" stroke-linecap="round"/>
<rect x="93" y="1006" width="48.5" height="43" fill="#a8b4f4"/>
<rect x="136" y="1006" width="5.5" height="43" fill="#7f94ee"/>
<path d="M93,1006H141.5V1049" fill="none" stroke="#181847" stroke-width="2.6" stroke-dasharray="16 2 40 2 30 0"/>
<path d="M64.5,1049V984L78.5,977.5L93,984V1049Z" fill="#a8b4f4" stroke="#181847" stroke-width="2.6" stroke-linejoin="round"/>
<path d="M88,985V1049H93V984Z" fill="#7f94ee"/>
<path d="M64.5,984L78.5,977.5L93,984" fill="none" stroke="#181847" stroke-width="2.8" stroke-linejoin="round" stroke-linecap="round"/>
<path d="M64.5,984H93" stroke="#181847" stroke-width="1.6"/>
<path d="M93,984V1049" stroke="#181847" stroke-width="2.6"/>
<rect x="66.3" y="986" width="2.4" height="62" fill="#e8ecff"/>
<rect x="72.7" y="991.5" width="2.6" height="4.6" rx="1.3" fill="#181847"/>
<rect x="83.7" y="991.5" width="2.6" height="4.6" rx="1.3" fill="#181847"/>
<rect x="72.7" y="1002.5" width="2.6" height="4.6" rx="1.3" fill="#181847"/>
<rect x="83.7" y="1002.5" width="2.6" height="4.6" rx="1.3" fill="#181847"/>
<rect x="72.7" y="1013.5" width="2.6" height="4.6" rx="1.3" fill="#181847"/>
<rect x="83.7" y="1013.5" width="2.6" height="4.6" rx="1.3" fill="#181847"/>
<rect x="72.7" y="1024.5" width="2.6" height="4.6" rx="1.3" fill="#181847"/>
<rect x="83.7" y="1024.5" width="2.6" height="4.6" rx="1.3" fill="#181847"/>
<rect x="95.7" y="1013.5" width="2.6" height="4.6" rx="1.3" fill="#181847"/>
<rect x="106.7" y="1013.5" width="2.6" height="4.6" rx="1.3" fill="#181847"/>
<rect x="117.7" y="1013.5" width="2.6" height="4.6" rx="1.3" fill="#181847"/>
<rect x="128.7" y="1013.5" width="2.6" height="4.6" rx="1.3" fill="#181847"/>
<rect x="95.7" y="1024.5" width="2.6" height="4.6" rx="1.3" fill="#181847"/>
<rect x="106.7" y="1024.5" width="2.6" height="4.6" rx="1.3" fill="#181847"/>
<rect x="117.7" y="1024.5" width="2.6" height="4.6" rx="1.3" fill="#181847"/>
<rect x="128.7" y="1024.5" width="2.6" height="4.6" rx="1.3" fill="#181847"/>
<rect x="106.7" y="1035" width="2.6" height="4.6" rx="1.3" fill="#181847"/>
<rect x="117.7" y="1035" width="2.6" height="4.6" rx="1.3" fill="#181847"/>
<rect x="128.7" y="1035" width="2.6" height="4.6" rx="1.3" fill="#181847"/>
<rect x="73" y="1033.5" width="13" height="15.5" fill="#7f94ee" stroke="#181847" stroke-width="2"/>
<path d="M90,1044H136" stroke="#181847" stroke-width="2" stroke-dasharray="30 2 20 0"/>
<path d="M78.5,962V977" stroke="#181847" stroke-width="1.8"/>
<rect x="67.5" y="962" width="12" height="8.5" fill="#f2375e" stroke="#181847" stroke-width="1.8" stroke-linejoin="round"/>
<rect x="155.5" y="1020" width="24.5" height="29" fill="#ff8b00" stroke="#181847" stroke-width="2"/>
<path d="M153.5,1020L167.5,1013.5L182,1020Z" fill="#ffb040" stroke="#181847" stroke-width="2" stroke-linejoin="round"/>
<rect x="174.5" y="1021" width="5" height="27" fill="#ff6a00"/>
<rect x="156.5" y="1021" width="2.5" height="27" fill="#fff3e0"/>
<path d="M162.5,1027.5V1031.5H174.5V1027.5" fill="none" stroke="#181847" stroke-width="2" stroke-linecap="round" stroke-linejoin="round"/>
<path d="M150,1040H185M152.5,1040V1049M158,1040V1049M177,1040V1049M183,1040V1049" stroke="#181847" stroke-width="2" fill="none"/>
<rect x="159" y="1041" width="17" height="8" fill="#ff9d20"/>
<path d="M176,1006.5L183,1008.5M175,1009.5L182,1011.5" stroke="#181847" stroke-width="1.6" stroke-linecap="round"/>
<defs><clipPath id="c2"><rect x="350" y="980" width="250" height="154.5"/></clipPath><clipPath id="c2c"><circle cx="471.5" cy="1093" r="105.5"/></clipPath></defs>
<g clip-path="url(#c2)"><circle cx="471.5" cy="1093" r="105.5" fill="#4ab8fd"/><g clip-path="url(#c2c)">
<rect x="435.0" y="1002.0" width="39.0" height="12.0" rx="6.0" fill="#fff"/>
<rect x="399.0" y="1032.0" width="31.0" height="10.0" rx="5.0" fill="#fff"/>
<rect x="516.8" y="1020.0" width="83.2" height="15.5" rx="7.8" fill="#fff"/>
<rect x="528.0" y="1056.0" width="23.5" height="8.0" rx="4.0" fill="#fff"/>
<rect x="405.0" y="1068.5" width="22.0" height="7.5" rx="3.8" fill="#fff"/>
<rect x="518.0" y="1074.0" width="15.0" height="6.0" rx="3.0" fill="#fff"/>
</g></g>
<ellipse cx="417.5" cy="1103.5" rx="12" ry="16.5" fill="#5fa46a" stroke="#181847" stroke-width="2.2"/><path d="M415.5,1088.0 A12,16.5 0 0 0 415.5,1119.0Z" fill="#e6f0ea"/><path d="M417.5,1097.5V1134" stroke="#181847" stroke-width="2.2"/><path d="M420.5,1099.5l4,-3M420.5,1105.5l5,-3.5M420.5,1111.5l4,-3" stroke="#3f7f4c" stroke-width="1.6" stroke-linecap="round"/><ellipse cx="417.5" cy="1103.5" rx="12" ry="16.5" fill="none" stroke="#181847" stroke-width="2.2"/>
<rect x="407" y="1119" width="20.5" height="15" fill="#ffd400"/><rect x="407" y="1119" width="6" height="15" fill="#ffb300"/>
<path d="M406.5,1127V1134" stroke="#181847" stroke-width="2.8"/>
<path d="M383.5,1100V1106" stroke="#181847" stroke-width="2.6" stroke-linecap="round"/>
<rect x="382" y="1110.5" width="23" height="23.5" fill="#ff8b00"/><rect x="383.3" y="1110.5" width="2.5" height="23.5" fill="#fff3e0"/><path d="M382,1134V1110.5M405,1110.5V1134" stroke="#181847" stroke-width="2.6"/><path d="M377.5,1110.0L394,1099.5L409.5,1110.0Z" fill="#ff7a00"/><path d="M379,1109.3L394,1101.0L397,1103.0L385,1109.3Z" fill="#fff6e6"/><path d="M377.5,1110.0L394,1099.5L409.5,1110.0Z" fill="none" stroke="#181847" stroke-width="2.8" stroke-linejoin="round"/><rect x="386.7" y="1121.5" width="3.2" height="12.5" rx="1.6" fill="#181847"/><rect x="396.0" y="1116.5" width="3" height="5" rx="1.5" fill="#181847"/>
<path d="M374,1131.5h3.5v-4h3.5v7h-7Z" fill="#7fb6f5" stroke="#181847" stroke-width="1.8" stroke-linejoin="round"/>
<ellipse cx="520" cy="1103" rx="8" ry="12" fill="#5fa46a" stroke="#181847" stroke-width="2.2"/><path d="M518,1092 A8,12 0 0 0 518,1114Z" fill="#e6f0ea"/><path d="M520,1097V1134" stroke="#181847" stroke-width="2.2"/><path d="M523,1099l4,-3M523,1105l5,-3.5M523,1111l4,-3" stroke="#3f7f4c" stroke-width="1.6" stroke-linecap="round"/><ellipse cx="520" cy="1103" rx="8" ry="12" fill="none" stroke="#181847" stroke-width="2.2"/>
<rect x="545.5" y="1112.5" width="22.0" height="21.5" fill="#ff7a00"/><rect x="546.8" y="1112.5" width="9.200000000000045" height="21.5" fill="#ff9d20"/><path d="M545.5,1134V1112.5M567.5,1112.5V1134" stroke="#181847" stroke-width="2.6"/><path d="M541.0,1112.0L556,1101L572.0,1112.0Z" fill="#ff8b00"/><path d="M542.5,1111.3L556,1102.5L559,1104.5L548.5,1111.3Z" fill="#fff6e6"/><path d="M541.0,1112.0L556,1101L572.0,1112.0Z" fill="none" stroke="#181847" stroke-width="2.8" stroke-linejoin="round"/><rect x="559.4" y="1121.5" width="3.2" height="12.5" rx="1.6" fill="#181847"/><rect x="549.5" y="1118.5" width="3" height="5" rx="1.5" fill="#181847"/>
<ellipse cx="553" cy="1103.5" rx="12" ry="16.5" fill="#5fa46a" stroke="#181847" stroke-width="2.2"/><path d="M551,1088.0 A12,16.5 0 0 0 551,1119.0Z" fill="#e6f0ea"/><path d="M553,1097.5V1134" stroke="#181847" stroke-width="2.2"/><path d="M556,1099.5l4,-3M556,1105.5l5,-3.5M556,1111.5l4,-3" stroke="#3f7f4c" stroke-width="1.6" stroke-linecap="round"/><ellipse cx="553" cy="1103.5" rx="12" ry="16.5" fill="none" stroke="#181847" stroke-width="2.2"/>
<path d="M546,1126 Q553,1134 562,1124 V1134H546Z" fill="#ff7a00"/>
<path d="M567.5,1112.5V1134" stroke="#181847" stroke-width="2.6"/>
<rect x="519" y="1110.5" width="22.5" height="23.5" fill="#ffe000"/><rect x="520.3" y="1110.5" width="3.7000000000000455" height="23.5" fill="#ffb300"/><path d="M519,1134V1110.5M541.5,1110.5V1134" stroke="#181847" stroke-width="2.6"/><path d="M514.5,1110.0L529.5,1100L546.0,1110.0Z" fill="#ffb700"/><path d="M516,1109.3L529.5,1101.5L532.5,1103.5L522,1109.3Z" fill="#fff6e6"/><path d="M514.5,1110.0L529.5,1100L546.0,1110.0Z" fill="none" stroke="#181847" stroke-width="2.8" stroke-linejoin="round"/><rect x="523.9" y="1121.5" width="3.2" height="12.5" rx="1.6" fill="#181847"/><rect x="532.0" y="1116.5" width="3" height="5" rx="1.5" fill="#181847"/>
<rect x="428" y="1052" width="88" height="82" fill="#eef3fd"/>
<rect x="507" y="1052" width="9" height="82" fill="#c9d6f2"/>
<rect x="443" y="1062" width="59" height="7.5" fill="#bfd0ec"/>
<path d="M428,1134V1052H516V1134" fill="none" stroke="#181847" stroke-width="2.8" stroke-linejoin="round" stroke-dasharray="40 3 200 0"/>
<rect x="445.5" y="1032" width="54" height="30" fill="#eef3fd"/>
<rect x="490" y="1032" width="9.5" height="30" fill="#c9d6f2"/>
<rect x="445.5" y="1032" width="54" height="30" fill="none" stroke="#181847" stroke-width="2.8" stroke-dasharray="7 2 8 2 60 0" stroke-linejoin="round"/>
<path d="M472,1037 a4.5,4.5 0 0 1 4.5,4.5 v1.5 h1.5 a4.5,4.5 0 0 1 0,9 h-1.5 v1.5 a4.5,4.5 0 0 1 -9,0 v-1.5 h-1.5 a4.5,4.5 0 0 1 0,-9 h1.5 v-1.5 a4.5,4.5 0 0 1 4.5,-4.5Z" fill="#f72a52"/>
<rect x="443.1" y="1070.4" width="3.8" height="6.4" rx="1.9" fill="#181847"/>
<rect x="461.6" y="1070.4" width="3.8" height="6.4" rx="1.9" fill="#181847"/>
<rect x="480.1" y="1070.4" width="3.8" height="6.4" rx="1.9" fill="#181847"/>
<rect x="498.6" y="1070.4" width="3.8" height="6.4" rx="1.9" fill="#181847"/>
<rect x="443.1" y="1085.4" width="3.8" height="6.4" rx="1.9" fill="#181847"/>
<rect x="461.6" y="1085.4" width="3.8" height="6.4" rx="1.9" fill="#181847"/>
<rect x="480.1" y="1085.4" width="3.8" height="6.4" rx="1.9" fill="#181847"/>
<rect x="498.6" y="1085.4" width="3.8" height="6.4" rx="1.9" fill="#181847"/>
<rect x="455" y="1100" width="35" height="34" fill="#aebff0"/>
<path d="M456,1124L471,1106V1114L456,1132ZM474,1126L489,1108V1116L474,1134Z" fill="#e9effc"/>
<rect x="447.5" y="1099.5" width="49.5" height="7.5" fill="#bccdea" opacity="0.85"/>
<path d="M448,1098.5H496" stroke="#181847" stroke-width="2.8" stroke-linecap="round"/>
<path d="M455,1100V1134M490,1100V1134M472.5,1100V1134" stroke="#181847" stroke-width="2.6"/>
<path d="M358.5,1134.5H507M512.5,1134.5H560M566,1134.5H581" stroke="#181847" stroke-width="3" stroke-linecap="round"/>
<circle cx="169.6" cy="1173.8" r="58" fill="#4ab8fd"/>
<g transform="translate(160,1169.5) rotate(33)"><path d="M-20,-22 L-15,-19 L-10,-22 L-5,-19 L0,-22 L5,-19 L10,-22 L15,-19 L20,-22 V22 L15,19 L10,22 L5,19 L0,22 L-5,19 L-10,22 L-15,19 L-20,22Z" fill="#b3bcf5" stroke="#181847" stroke-width="2.5" stroke-linejoin="round"/>
<path d="M14,-19.5 V19.5 L15,19 L20,22V-22L15,-19Z" fill="#8a98ee"/>
<path d="M-20,-22 L-15,-19 L-10,-22 L-5,-19 L0,-22 L5,-19 L10,-22 L15,-19 L20,-22 V22 L15,19 L10,22 L5,19 L0,22 L-5,19 L-10,22 L-15,19 L-20,22Z" fill="none" stroke="#181847" stroke-width="2.5" stroke-linejoin="round"/>
<circle cx="-1" cy="0" r="11" fill="#d6dbfa" stroke="#181847" stroke-width="2.4" stroke-dasharray="50 4 8 4"/></g>
<path d="M182,1142L203,1176" stroke="#181847" stroke-width="2.5" stroke-linecap="round"/>
<circle cx="181.5" cy="1141" r="3" fill="none" stroke="#181847" stroke-width="1.8"/>
<path d="M178.5,1140.5C174,1142 169,1139 168,1137C167,1134.5 171,1134 174,1136L179,1139" fill="none" stroke="#181847" stroke-width="1.6"/>
<path d="M188.5,1186L219,1167.7" stroke="#181847" stroke-width="2.4" stroke-linecap="round" stroke-dasharray="5 3.5 12 3.5 5 3.5"/>
<circle cx="142.5" cy="1200.5" r="7.3" fill="#ff5a00" stroke="#181847" stroke-width="2"/>
<path d="M138,1196 A6,6 0 0 0 138,1205" fill="none" stroke="#ffb000" stroke-width="2"/>
<circle cx="172.3" cy="1202.8" r="12.3" fill="#ffd400" stroke="#181847" stroke-width="2.2"/>
<path d="M161,1208 A12,12 0 0 1 168,1191.5" fill="none" stroke="#fff" stroke-width="3"/>
<path d="M170,1192L178,1213" stroke="#fff" stroke-width="3"/>
<path d="M168,1192.5L175.5,1212" stroke="#181847" stroke-width="1.6" stroke-dasharray="9 2 20"/>
<path d="M656.2,1259.5A3.8,3.8 0 0 1 660.0,1263.3L660.0,1326.2A3.8,3.8 0 0 1 656.2,1330.0L25.8,1330.0A3.8,3.8 0 0 1 22.0,1326.2L22.0,1316.5A3.8,3.8 0 0 0 18.2,1312.7L12.1,1312.7A3.8,3.8 0 0 1 8.3,1308.9L8.3,1308.8A3.8,3.8 0 0 1 12.1,1305.0L30.5,1305.0A3.8,3.8 0 0 0 34.3,1301.2L34.3,1301.2A3.8,3.8 0 0 0 30.5,1297.5L29.6,1297.5A3.8,3.8 0 0 1 25.8,1293.8L25.8,1293.8A3.8,3.8 0 0 1 29.6,1290.0L50.0,1290.0A3.8,3.8 0 0 0 53.8,1286.2L53.8,1286.1A3.8,3.8 0 0 0 50.0,1282.3L23.8,1282.3A3.8,3.8 0 0 1 20.0,1278.5L20.0,1278.5A3.8,3.8 0 0 1 23.8,1274.7L66.2,1274.7A3.8,3.8 0 0 0 70.0,1270.9L70.0,1270.8A3.8,3.8 0 0 0 66.2,1267.0L60.0,1267.0A3.8,3.8 0 0 1 56.3,1263.2L56.3,1263.2A3.8,3.8 0 0 1 60.0,1259.5Z" fill="#ffffff"/>
<path d="M532.40,1301.00A10.4,10.4 0 0 1 531.61,1304.98L527.17,1303.14A5.6,5.6 0 0 0 527.60,1301.00Z" fill="#f6b417"/>
<path d="M531.61,1304.98A10.4,10.4 0 0 1 529.35,1308.35L525.96,1304.96A5.6,5.6 0 0 0 527.17,1303.14Z" fill="#d6322c"/>
<path d="M529.35,1308.35A10.4,10.4 0 0 1 525.98,1310.61L524.14,1306.17A5.6,5.6 0 0 0 525.96,1304.96Z" fill="#f6b417"/>
<path d="M525.98,1310.61A10.4,10.4 0 0 1 522.00,1311.40L522.00,1306.60A5.6,5.6 0 0 0 524.14,1306.17Z" fill="#d6322c"/>
<path d="M522.00,1311.40A10.4,10.4 0 0 1 518.02,1310.61L519.86,1306.17A5.6,5.6 0 0 0 522.00,1306.60Z" fill="#f6b417"/>
<path d="M518.02,1310.61A10.4,10.4 0 0 1 514.65,1308.35L518.04,1304.96A5.6,5.6 0 0 0 519.86,1306.17Z" fill="#d6322c"/>
<path d="M514.65,1308.35A10.4,10.4 0 0 1 512.39,1304.98L516.83,1303.14A5.6,5.6 0 0 0 518.04,1304.96Z" fill="#f6b417"/>
<path d="M512.39,1304.98A10.4,10.4 0 0 1 511.60,1301.00L516.40,1301.00A5.6,5.6 0 0 0 516.83,1303.14Z" fill="#d6322c"/>
<path d="M511.60,1301.00A10.4,10.4 0 0 1 512.39,1297.02L516.83,1298.86A5.6,5.6 0 0 0 516.40,1301.00Z" fill="#f6b417"/>
<path d="M512.39,1297.02A10.4,10.4 0 0 1 514.65,1293.65L518.04,1297.04A5.6,5.6 0 0 0 516.83,1298.86Z" fill="#d6322c"/>
<path d="M514.65,1293.65A10.4,10.4 0 0 1 518.02,1291.39L519.86,1295.83A5.6,5.6 0 0 0 518.04,1297.04Z" fill="#f6b417"/>
<path d="M518.02,1291.39A10.4,10.4 0 0 1 522.00,1290.60L522.00,1295.40A5.6,5.6 0 0 0 519.86,1295.83Z" fill="#d6322c"/>
<path d="M522.00,1290.60A10.4,10.4 0 0 1 525.98,1291.39L524.14,1295.83A5.6,5.6 0 0 0 522.00,1295.40Z" fill="#f6b417"/>
<path d="M525.98,1291.39A10.4,10.4 0 0 1 529.35,1293.65L525.96,1297.04A5.6,5.6 0 0 0 524.14,1295.83Z" fill="#d6322c"/>
<path d="M529.35,1293.65A10.4,10.4 0 0 1 531.61,1297.02L527.17,1298.86A5.6,5.6 0 0 0 525.96,1297.04Z" fill="#f6b417"/>
<path d="M531.61,1297.02A10.4,10.4 0 0 1 532.40,1301.00L527.60,1301.00A5.6,5.6 0 0 0 527.17,1298.86Z" fill="#d6322c"/>
<path d="M579,1320 A24,24 0 0 1 600,1301.5 V1320Z" fill="#f06a25"/>
<path d="M587,1306 A24,24 0 0 1 600,1301.5 V1311 L594,1313Z" fill="#f6b417"/>
<path d="M579,1320 A24,24 0 0 1 581.5,1312 L592,1320Z" fill="#d6322c"/>
</svg>
<div class="t b" style="left:187.0px;top:43.5px;font-size:41.5px;color:#ffffff;transform:scaleX(0.7679)">GEORGIA</div>
<div class="t b" style="left:190.5px;top:83.2px;font-size:24.3px;color:#ffffff;transform:scaleX(0.8776)">THE WORST COUNTRY</div>
<div class="t b" style="left:205.0px;top:119.3px;font-size:20px;color:#ffffff;transform:scaleX(0.8787)">TO GIVE BIRTH IN</div>
<div class="t b" style="left:206.0px;top:141.9px;font-size:20px;color:#ffffff;transform:scaleX(0.8298)">EASTERN EUROPE</div>
<div class="t r" style="left:396.0px;top:191.9px;font-size:12.6px;color:#26316b;transform:scaleX(1.0207)">In Georgia,</div>
<div class="t b" style="left:396.0px;top:206.2px;font-size:24px;color:#181847;transform:scaleX(0.9158)">20-25 WOMEN</div>
<div class="t r" style="left:396.0px;top:232.5px;font-size:12.6px;color:#26316b;transform:scaleX(1.0192)">die of pregnancy- related</div>
<div class="t r" style="left:396.0px;top:247.5px;font-size:12.6px;color:#26316b;transform:scaleX(0.9618)">causes every year</div>
<div class="t r" style="left:286.0px;top:280.5px;font-size:12.6px;color:#26316b;transform:scaleX(0.9707)">Out of these,</div>
<div class="t b" style="left:361.0px;top:275.2px;font-size:20.3px;color:#181847;transform:scaleX(0.8437)">3-4 ARE TEENAGE GIRLS</div>
<div class="t b" style="left:121.5px;top:391.7px;font-size:12.5px;color:#181847;transform:scaleX(0.8554)">Georgia has the worst</div>
<div class="t b" style="left:113.0px;top:410.2px;font-size:12.5px;color:#181847;transform:scaleX(0.8926)">maternal mortality rate</div>
<div class="t b" style="left:97.5px;top:428.6px;font-size:12.5px;color:#181847;transform:scaleX(0.8543)">among all Eastern European</div>
<div class="t b" style="left:97.5px;top:447.0px;font-size:12.5px;color:#181847;transform:scaleX(0.8640)">and neighbouring countries</div>
<div class="t r" style="left:462.3px;top:541.5px;font-size:10.8px;color:#26316b;transform:scaleX(0.9300)">Maternal mortality rate per</div>
<div class="t r" style="left:500.0px;top:556.5px;font-size:10.8px;color:#26316b;transform:scaleX(0.9124)">100,000 live births,</div>
<div class="t r" style="left:506.0px;top:571.5px;font-size:10.8px;color:#3f73bd;transform:scaleX(0.8909)">World Bank, 2015</div>
<div class="t b" style="left:138.3px;top:629.6px;font-size:23.2px;color:#ffffff;transform:scaleX(0.7539)">WHY DOES THIS HAPPEN IN GEORGIA?</div>
<div class="t m" style="left:55.8px;top:692.2px;font-size:17.4px;color:#4db9fe;transform:scaleX(0.7984)">ABSENCE OF SEX EDUCATION</div>
<div class="t r" style="left:56.2px;top:715.4px;font-size:12.7px;color:#f3f4fa;transform:scaleX(0.9026)">There is no sex education class in school</div>
<div class="t r" style="left:56.0px;top:738.0px;font-size:12.7px;color:#f3f4fa;transform:scaleX(0.9487)">83% of parents do not talk to their children</div>
<div class="t r" style="left:56.0px;top:754.3px;font-size:12.7px;color:#f3f4fa;transform:scaleX(0.9460)">about reproductive rights and health</div>
<div class="t m" style="left:55.8px;top:797.0px;font-size:17.4px;color:#4db9fe;transform:scaleX(0.8005)">LACK OF SKILLED CARE</div>
<div class="t m" style="left:366.5px;top:691.5px;font-size:17.4px;color:#4db9fe;transform:scaleX(0.8089)">HIGH RATE OF ADOLESCENT</div>
<div class="t m" style="left:366.5px;top:713.7px;font-size:17.4px;color:#4db9fe;transform:scaleX(0.7899)">PREGNANCIES</div>
<div class="t r" style="left:366.5px;top:740.4px;font-size:12.7px;color:#f3f4fa;transform:scaleX(0.9277)">10% of pregnant women are teenagers</div>
<div class="t r" style="left:366.2px;top:761.2px;font-size:12.7px;color:#f3f4fa;transform:scaleX(0.9280)">However, teenage girls account for</div>
<div class="t r" style="left:366.5px;top:777.9px;font-size:12.7px;color:#f3f4fa;transform:scaleX(0.9290)">16% of maternal deaths</div>
<div class="t b" style="left:166.0px;top:863.1px;font-size:24px;color:#ffffff;transform:scaleX(0.7505)">WHAT COULD BE A SOLUTION?</div>
<div class="t b" style="left:224.3px;top:975.8px;font-size:13.3px;color:#181847;transform:scaleX(0.8821)">Availability of sex education</div>
<div class="t r" style="left:229.0px;top:992.6px;font-size:13.3px;color:#26316b;transform:scaleX(0.9404)">at schools and at home</div>
<div class="t b" style="left:197.3px;top:1081.2px;font-size:13.3px;color:#181847;transform:scaleX(0.8872)">More skilled maternity care,</div>
<div class="t r" style="left:219.7px;top:1096.5px;font-size:13.3px;color:#26316b;transform:scaleX(0.9421)">especially in rural areas</div>
<div class="t r" style="left:242.0px;top:1175.8px;font-size:13.3px;color:#26316b;transform:scaleX(0.9416)">Better knowledge and accessibility</div>
<div class="t r" style="left:239.3px;top:1192.2px;font-size:13.3px;color:#26316b;transform:scaleX(0.9014)">to</div>
<div class="t b" style="left:253.3px;top:1192.2px;font-size:13.3px;color:#181847;transform:scaleX(0.8670)">modern contraception</div>
<div class="t r" style="left:82.5px;top:1266.3px;font-size:10.9px;color:#2b2b68;transform:scaleX(0.8789)">Source:</div>
<div class="t r" style="left:82.5px;top:1280.1px;font-size:10.9px;color:#6b6b97;transform:scaleX(0.9003)">World Bank</div>
<div class="t r" style="left:82.5px;top:1294.5px;font-size:10.9px;color:#6b6b97;transform:scaleX(0.9463)">National Statistics Office of Georgia</div>
<div class="t r" style="left:259.0px;top:1280.1px;font-size:10.9px;color:#6b6b97;transform:scaleX(0.9340)">National Center of Disease Control of Georgia</div>
<div class="t r" style="left:259.0px;top:1294.5px;font-size:10.9px;color:#6b6b97;transform:scaleX(0.9417)">Men and gender relations in Georgia, 2013</div>
<div class="t b" style="left:535.6px;top:1294.8px;font-size:11.3px;color:#c1272d;transform:scaleX(0.8841)">JumpStart</div>
<div class="t b" style="left:585.6px;top:1293.8px;font-size:5.5px;color:#c1272d;transform:scaleX(0.6809)">Ge</div>
<div class="t r" style="left:359.0px;top:351.7px;font-size:12.6px;color:#26316b;transform:scaleX(0.8770)">Georgia</div>
<div class="t b" style="left:529.2px;top:350.7px;font-size:13px;color:#181847;transform:scaleX(0.7464)">36</div>
<div class="t r" style="left:354.0px;top:368.3px;font-size:12.6px;color:#26316b;transform:scaleX(0.8789)">Romania</div>
<div class="t b" style="left:513.2px;top:367.3px;font-size:13px;color:#181847;transform:scaleX(0.7464)">31</div>
<div class="t r" style="left:356.0px;top:384.9px;font-size:12.6px;color:#26316b;transform:scaleX(0.9018)">Armenia</div>
<div class="t b" style="left:494.0px;top:383.9px;font-size:13px;color:#181847;transform:scaleX(0.7464)">25</div>
<div class="t r" style="left:343.5px;top:401.5px;font-size:12.6px;color:#26316b;transform:scaleX(0.9208)">Azerbaijan</div>
<div class="t b" style="left:494.0px;top:400.5px;font-size:13px;color:#181847;transform:scaleX(0.7464)">25</div>
<div class="t r" style="left:366.5px;top:418.1px;font-size:12.6px;color:#26316b;transform:scaleX(0.8260)">Russia</div>
<div class="t b" style="left:494.0px;top:417.1px;font-size:13px;color:#181847;transform:scaleX(0.7464)">25</div>
<div class="t r" style="left:358.5px;top:434.7px;font-size:12.6px;color:#26316b;transform:scaleX(0.9169)">Ukraine</div>
<div class="t b" style="left:490.8px;top:433.7px;font-size:13px;color:#181847;transform:scaleX(0.7464)">24</div>
<div class="t r" style="left:355.0px;top:451.3px;font-size:12.6px;color:#26316b;transform:scaleX(0.9095)">Moldova</div>
<div class="t b" style="left:487.6px;top:450.3px;font-size:13px;color:#181847;transform:scaleX(0.7464)">23</div>
<div class="t r" style="left:355.0px;top:467.9px;font-size:12.6px;color:#26316b;transform:scaleX(0.9095)">Hungary</div>
<div class="t b" style="left:468.4px;top:466.9px;font-size:13px;color:#181847;transform:scaleX(0.7464)">17</div>
<div class="t r" style="left:365.0px;top:484.5px;font-size:12.6px;color:#26316b;transform:scaleX(0.8756)">Turkey</div>
<div class="t b" style="left:465.2px;top:483.5px;font-size:13px;color:#181847;transform:scaleX(0.7464)">16</div>
<div class="t r" style="left:356.0px;top:501.1px;font-size:12.6px;color:#26316b;transform:scaleX(0.9152)">Bulgaria</div>
<div class="t b" style="left:449.2px;top:500.1px;font-size:13px;color:#181847;transform:scaleX(0.7855)">11</div>
<div class="t r" style="left:316.0px;top:517.7px;font-size:12.6px;color:#26316b;transform:scaleX(0.9113)">Slovak Republic</div>
<div class="t b" style="left:433.2px;top:516.8px;font-size:13px;color:#181847;transform:scaleX(0.7464)">6</div>
<div class="t r" style="left:360.5px;top:534.3px;font-size:12.6px;color:#26316b;transform:scaleX(0.8852)">Belarus</div>
<div class="t b" style="left:426.8px;top:533.4px;font-size:13px;color:#181847;transform:scaleX(0.7464)">4</div>
<div class="t r" style="left:320.0px;top:550.9px;font-size:12.6px;color:#26316b;transform:scaleX(0.8877)">Czech Republic</div>
<div class="t b" style="left:426.8px;top:550.0px;font-size:13px;color:#181847;transform:scaleX(0.7464)">4</div>
<div class="t r" style="left:363.0px;top:567.5px;font-size:12.6px;color:#26316b;transform:scaleX(0.9001)">Poland</div>
<div class="t b" style="left:423.6px;top:566.6px;font-size:13px;color:#181847;transform:scaleX(0.7464)">3</div>
</body></html>
